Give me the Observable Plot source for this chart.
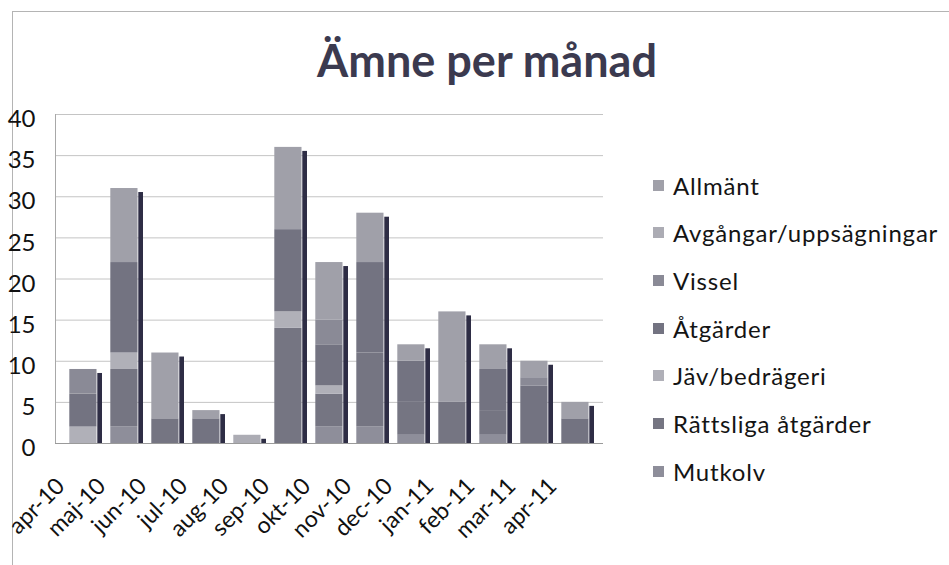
<!DOCTYPE html>
<html>
<head>
<meta charset="utf-8">
<script src="https://cdn.jsdelivr.net/npm/d3@7"></script>
<script src="https://cdn.jsdelivr.net/npm/@observablehq/plot@0.6"></script>
<style>
  html, body { margin: 0; padding: 0; background: #fff; }
  #wrap { position: relative; width: 949px; height: 565px; overflow: hidden; font-family: Lato, "Open Sans", sans-serif; }
  #border { position: absolute; left: 12px; top: 11px; width: 945px; height: 560px; border-top: 1px solid #b4b4b4; border-left: 1px solid #b4b4b4; }
  #title { position: absolute; left: 0; width: 974px; top: 38px; text-align: center; font: bold 45px/45px Lato, sans-serif; color: #3b3a4f; }
  #main { position: absolute; left: 0; top: 0; }
  #legend { position: absolute; left: 653px; top: 0; }
  .row { position: absolute; left: 0; display: flex; align-items: center; white-space: nowrap; }
  .sw { width: 11px; height: 11px; margin-right: 9px; }
  .lb { font: 24px Lato, sans-serif; color: #141414; letter-spacing: 0.8px; }
</style>
</head>
<body>
<div id="wrap">
  <div id="border"></div>
  <div id="title">Ämne per månad</div>
  <div id="main"></div>
  <div id="legend"></div>
</div>
<script>
// Months (categories)
const months = ["apr-10","maj-10","jun-10","jul-10","aug-10","sep-10","okt-10","nov-10","dec-10","jan-11","feb-11","mar-11","apr-11"];

// Series, bottom of stack first
const seriesNames = ["Mutkolv","Rättsliga åtgärder","Jäv/bedrägeri","Åtgärder","Vissel","Avgångar/uppsägningar","Allmänt"];

// Values per series (one per month)
const mutkolv    = [0, 2, 0, 0, 0, 0, 2, 2, 1, 0, 1, 0, 0];
const rattsliga  = [0, 7, 3, 0, 0,14, 4, 9, 4, 5, 3, 0, 0];
const jav        = [2, 2, 0, 0, 0, 2, 1, 0, 0, 0, 0, 0, 0];
const atgarder   = [4,11, 0, 3, 0,10, 5,11, 5, 0, 5, 7, 3];
const vissel     = [3, 0, 0, 0, 0, 0, 3, 0, 0, 0, 0, 1, 0];
const avgangar   = [0, 0, 0, 0, 1, 0, 0, 0, 0, 0, 0, 0, 0];
const allmant    = [0, 9, 8, 1, 0,10, 7, 6, 2,11, 3, 2, 2];

const seriesValues = [mutkolv, rattsliga, jav, atgarder, vissel, avgangar, allmant];
const seriesColors = ["#8e8e9a", "#757582", "#b0b0b8", "#737381", "#8a8a96", "#acacb4", "#a0a0a9"];
const shadowColor = "#2e2d45";

const yTicks = [0, 5, 10, 15, 20, 25, 30, 35, 40];

// Tidy table built from the arrays
const table = [];
seriesNames.forEach((s, i) => {
  months.forEach((m, j) => table.push({ month: m, series: s, value: seriesValues[i][j] }));
});

const main = Plot.plot({
  width: 640,
  height: 565,
  marginTop: 114,
  marginBottom: 122,
  marginLeft: 55,
  marginRight: 37,
  style: { fontFamily: "Lato, sans-serif", background: "transparent", overflow: "visible" },
  x: { type: "band", domain: months, range: [56, 599.4], padding: 0, axis: null },
  y: { domain: [0, 40], axis: null, label: null },
  color: { domain: seriesNames, range: seriesColors },
  marks: [
    Plot.gridY(yTicks, { stroke: "#c4c4c4", strokeOpacity: 1, strokeWidth: 1 }),
    Plot.frame({ anchor: "left", stroke: "#a8a8a8" }),
    Plot.barY(table, Plot.groupX({ y: "sum" }, {
      x: "month", y: "value", fill: shadowColor, insetLeft: 36.3, insetRight: 0, insetTop: 4
    })),
    Plot.barY(table, {
      x: "month", y: "value", fill: "series", insetLeft: 8.3, insetRight: 5.5
    }),
    Plot.ruleY([0], { stroke: "#9a9a9a" }),
    Plot.axisY(yTicks, {
      label: null, tickSize: 0, tickPadding: 20, fontSize: 24, dy: 5, fill: "#111", tickFormat: d => String(d)
    }),
    Plot.text(months, {
      x: d => d, frameAnchor: "bottom", rotate: -45, textAnchor: "end",
      dx: -16, dy: 44, fontSize: 23, fill: "#111"
    })
  ]
});
document.getElementById("main").appendChild(main);

// Legend (top of stack first)
const legend = document.getElementById("legend");
seriesNames.slice().reverse().forEach((s, i) => {
  const row = document.createElement("div");
  row.className = "row";
  row.style.top = (185 + i * 47.7 - 15) + "px";
  row.style.height = "30px";
  const sw = document.createElement("div");
  sw.className = "sw";
  sw.style.background = seriesColors[seriesNames.indexOf(s)];
  const lb = document.createElement("span");
  lb.className = "lb";
  lb.textContent = s;
  row.appendChild(sw);
  row.appendChild(lb);
  legend.appendChild(row);
});
</script>
</body>
</html>
